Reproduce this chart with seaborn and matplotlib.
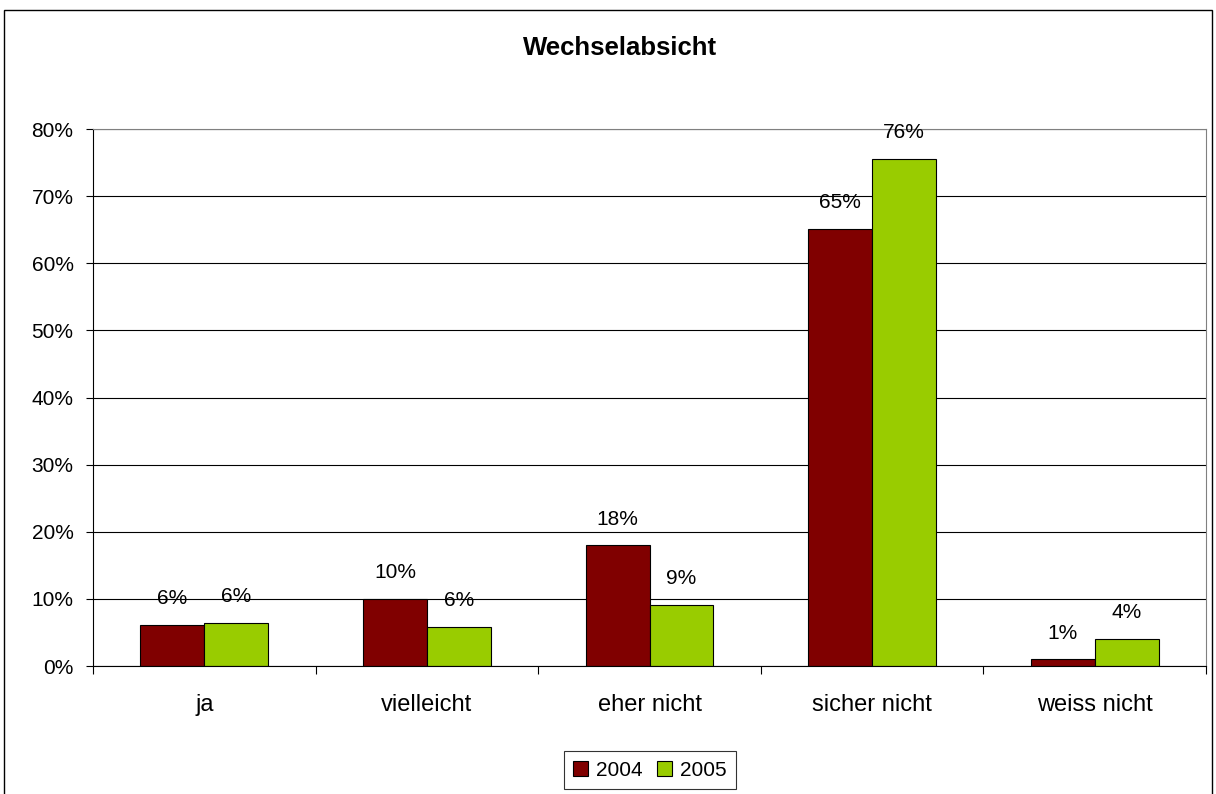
import matplotlib
matplotlib.use("Agg")
import matplotlib.pyplot as plt
import seaborn as sns
import pandas as pd
from matplotlib.ticker import PercentFormatter, FixedLocator
from matplotlib.patches import Rectangle

categories = ["ja", "vielleicht", "eher nicht", "sicher nicht", "weiss nicht"]
years = ["2004", "2005"]
values_2004 = [0.061, 0.100, 0.180, 0.651, 0.010]
values_2005 = [0.064, 0.058, 0.091, 0.756, 0.040]
colors = ["#800000", "#99CC00"]

df = pd.DataFrame({
    "Kategorie": categories * 2,
    "Jahr": [years[0]] * len(categories) + [years[1]] * len(categories),
    "Wert": values_2004 + values_2005,
})

sns.set_theme(style="white")
plt.rcParams["font.family"] = ["Liberation Sans", "DejaVu Sans"]
plt.rcParams["text.color"] = "black"
plt.rcParams["xtick.color"] = "black"
plt.rcParams["ytick.color"] = "black"

fig = plt.figure(figsize=(12.16, 7.94), dpi=100)
ax = fig.add_axes([93/1216, (794-666)/794, (1206-93)/1216, (666-129)/794])

sns.barplot(data=df, x="Kategorie", y="Wert", hue="Jahr", palette=colors,
            width=0.575, gap=0, edgecolor="black", linewidth=0.8, ax=ax,
            saturation=1, legend=True)

ax.set_ylim(0, 0.8)
ax.set_xlim(-0.5, len(categories) - 0.5)
ax.set_yticks([i / 10 for i in range(9)])
ax.yaxis.set_major_formatter(PercentFormatter(1.0, decimals=0))
ax.grid(axis="y", color="black", linewidth=0.8)
ax.set_axisbelow(True)
ax.set_xlabel("")
ax.set_ylabel("")
ax.tick_params(axis="y", labelsize=15, length=5, width=0.8, color="black", left=True, pad=9)
ax.tick_params(axis="x", labelsize=17, length=0, pad=20)
ax.xaxis.set_minor_locator(FixedLocator([i - 0.5 for i in range(len(categories) + 1)]))
ax.tick_params(axis="x", which="minor", length=6, width=0.8, color="black", bottom=True)
for side in ["top", "right"]:
    ax.spines[side].set_color("#808080")
    ax.spines[side].set_linewidth(0.8)
for side in ["left", "bottom"]:
    ax.spines[side].set_color("black")
    ax.spines[side].set_linewidth(0.8)

for cont in ax.containers:
    labels = [f"{round(b.get_height() * 100):.0f}%" for b in cont]
    ax.bar_label(cont, labels=labels, padding=12, fontsize=15, color="black")

handles, labs = ax.get_legend_handles_labels()
ax.get_legend().remove()
leg = fig.legend(handles, labs, loc="center", bbox_to_anchor=(650/1216, 1 - 770/794),
                 ncol=2, frameon=True, fancybox=False, edgecolor="black", fontsize=15,
                 handlelength=0.7, handleheight=0.7, handletextpad=0.4, columnspacing=0.7,
                 borderpad=0.45)
leg.get_frame().set_linewidth(0.8)

fig.text(620/1216, 1 - 48/794, "Wechselabsicht", ha="center", va="center",
         fontsize=18.5, fontweight="bold", color="black")

fig.patches.append(Rectangle((4/1216, -0.05), (1212-4)/1216, 1 - 10/794 + 0.05,
                             transform=fig.transFigure, fill=False, edgecolor="black",
                             linewidth=1.0))

fig.savefig("out.png", dpi=100)
